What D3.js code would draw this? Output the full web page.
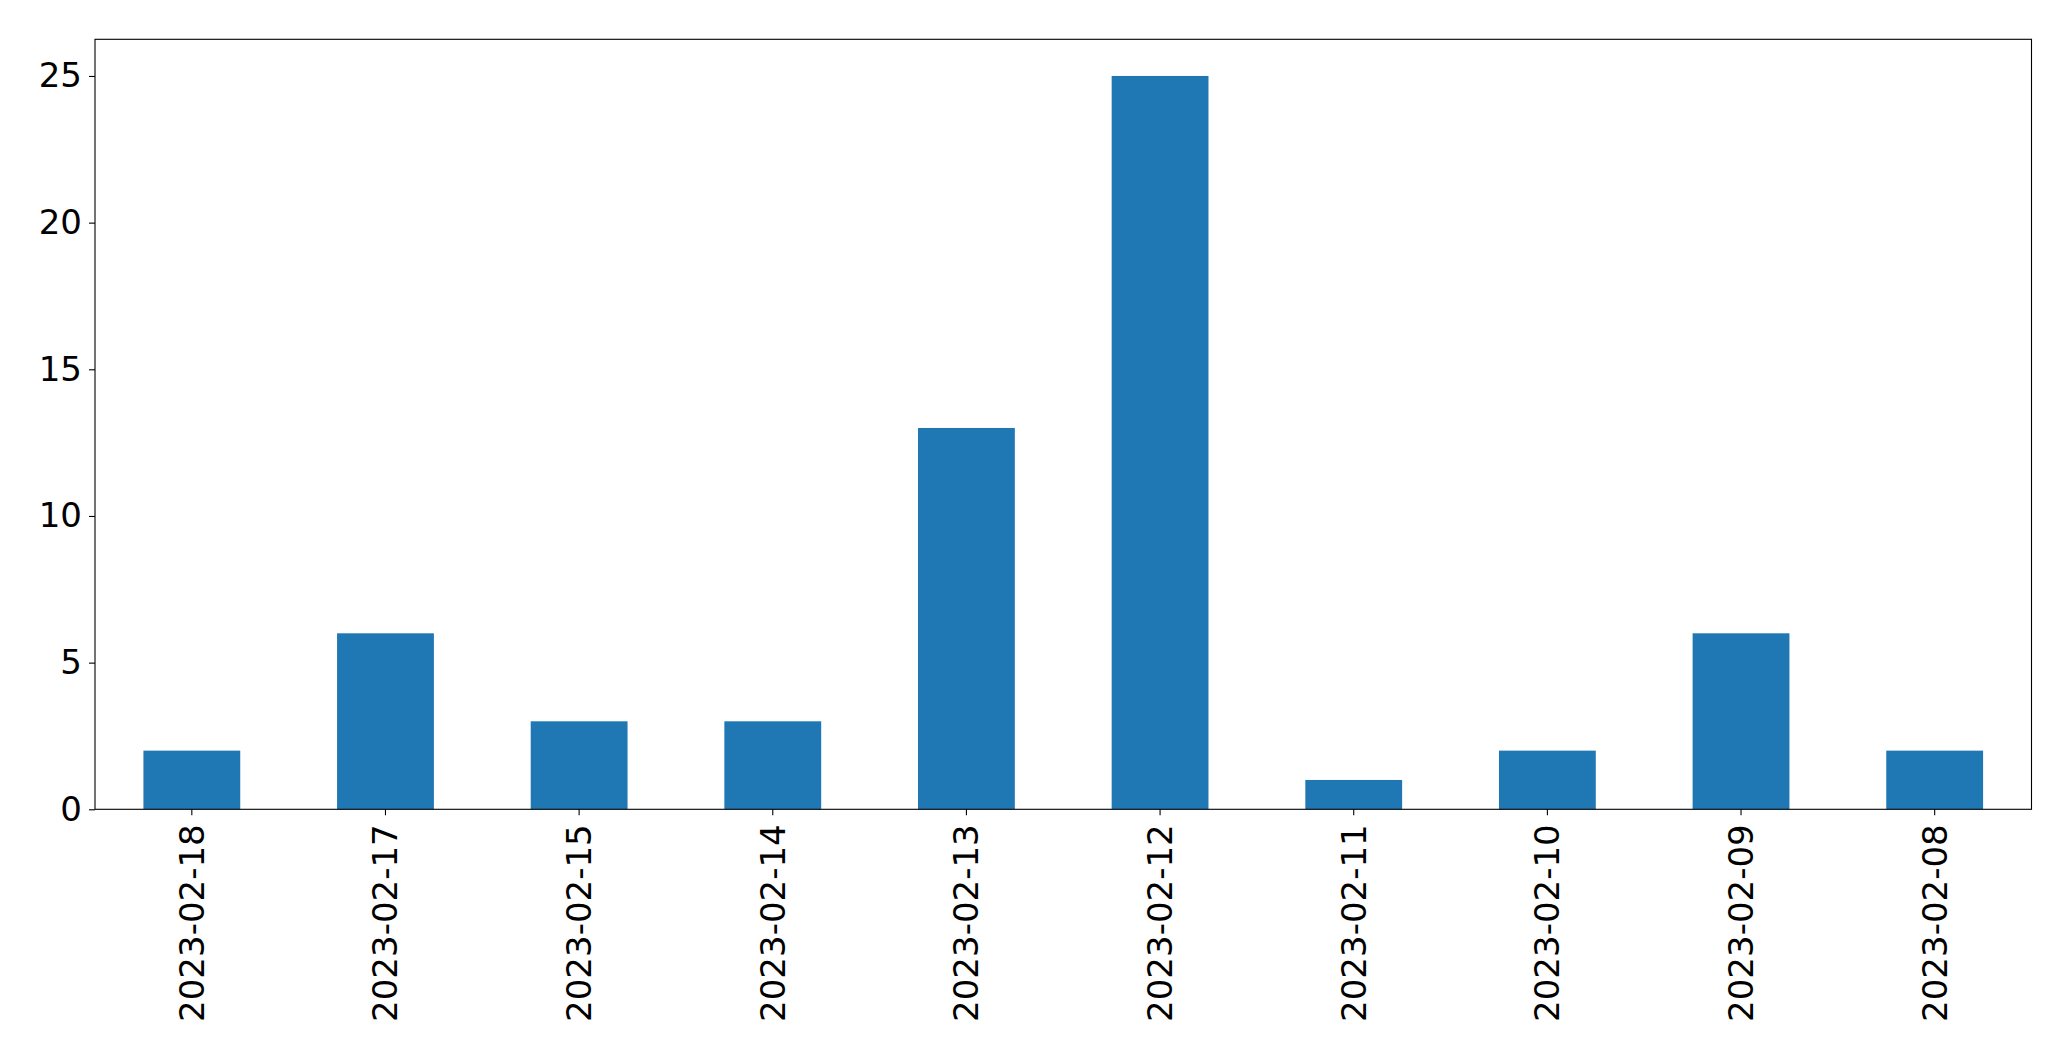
<!DOCTYPE html>
<html><head><meta charset="utf-8">
<script src="https://cdn.jsdelivr.net/npm/d3@7"></script>
<style>body{margin:0;background:#fff}svg{display:block}</style>
</head><body>
<script>
const categories = ["2023-02-18","2023-02-17","2023-02-15","2023-02-14","2023-02-13","2023-02-12","2023-02-11","2023-02-10","2023-02-09","2023-02-08"];
const values = [2, 6, 3, 3, 13, 25, 1, 2, 6, 2];
const yTicks = [0, 5, 10, 15, 20, 25];

const W = 2071, H = 1061;
const m = {left: 95, right: 2031.5, top: 39.3, bottom: 809.3};
const fontSize = 34;
const svg = d3.select("body").append("svg").attr("width", W).attr("height", H);

const x = d3.scaleBand().domain(categories).range([m.left, m.right]).paddingInner(0.5).paddingOuter(0.25);
const y = d3.scaleLinear().domain([0, 26.25]).range([m.bottom, m.top]);

svg.append("g").selectAll("rect").data(values).join("rect")
  .attr("x", (d, i) => x(categories[i]))
  .attr("width", x.bandwidth())
  .attr("y", d => y(d))
  .attr("height", d => y(0) - y(d))
  .attr("fill", "#1f77b4");

// y axis
const ya = svg.append("g").attr("transform", `translate(${m.left},0)`)
  .call(d3.axisLeft(y).tickValues(yTicks).tickSize(6).tickPadding(7).tickFormat(d3.format("d")));
ya.select(".domain").remove();
ya.selectAll("text").attr("font-family", "DejaVu Sans").attr("font-size", fontSize).attr("fill", "#000");
ya.selectAll("line").attr("stroke", "#000").attr("stroke-width", 1.1);

// x axis
const xa = svg.append("g").attr("transform", `translate(0,${m.bottom})`)
  .call(d3.axisBottom(x).tickSize(6).tickPadding(0));
xa.select(".domain").remove();
xa.selectAll("line").attr("stroke", "#000").attr("stroke-width", 1.1);
xa.selectAll("text")
  .attr("font-family", "DejaVu Sans").attr("font-size", fontSize).attr("fill", "#000")
  .attr("transform", "translate(0,15) rotate(-90)")
  .attr("x", 0).attr("y", 0).attr("dy", "0.35em")
  .attr("text-anchor", "end");

// frame
svg.append("rect").attr("x", m.left).attr("y", m.top)
  .attr("width", m.right - m.left).attr("height", m.bottom - m.top)
  .attr("fill", "none").attr("stroke", "#000").attr("stroke-width", 1.1);
</script>
</body></html>
